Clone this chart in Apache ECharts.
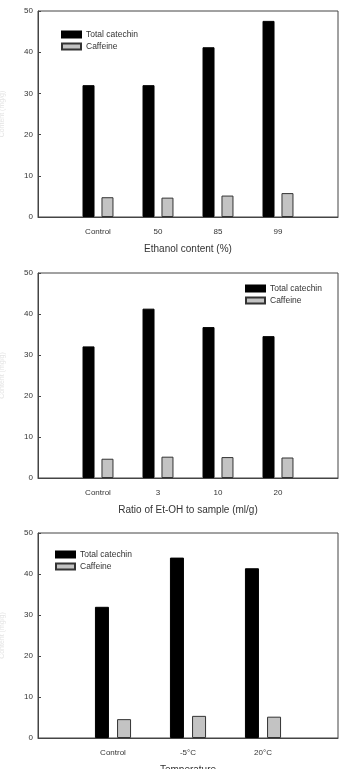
<!DOCTYPE html>
<html>
<head>
<meta charset="utf-8">
<script src="https://cdn.jsdelivr.net/npm/echarts@6/dist/echarts.min.js"></script>
<style>
  html, body { margin: 0; padding: 0; background: #fff; }
  #chart { width: 346px; height: 769px; }
</style>
</head>
<body>
<div id="chart"></div>
<script>
// tick labels on y (same for the three panels)
const yMin = 0, yMax = 50, yStep = 10;

// panel 1: ethanol content
const cats1 = ['Control', '50', '85', '99'];
const catechin1 = [32, 32, 41.2, 47.6];
const caffeine1 = [4.8, 4.7, 5.2, 5.8];

// panel 2: ratio of Et-OH to sample
const cats2 = ['Control', '3', '10', '20'];
const catechin2 = [32.1, 41.3, 36.8, 34.6];
const caffeine2 = [4.7, 5.2, 5.1, 5.0];

// panel 3: temperature
const cats3 = ['Control', '-5°C', '20°C'];
const catechin3 = [32, 44, 41.4];
const caffeine3 = [4.6, 5.4, 5.2];

const xNames = ['Ethanol content (%)', 'Ratio of Et-OH to sample (ml/g)', 'Temperature'];

// empty slot at both ends so groups sit on the ticks
const pad = arr => ['', ...arr, ''];
const padV = arr => ['-', ...arr, '-'];

const grids = [
  { left: 38, top: 11, width: 300, height: 206 },
  { left: 38, top: 273, width: 300, height: 205 },
  { left: 38, top: 533, width: 300, height: 205 }
].map(g => Object.assign(g, {
  show: true, borderColor: '#444', borderWidth: 1, backgroundColor: '#fff',
  containLabel: false, outerBoundsMode: 'none'
}));

const txt = { color: '#333', fontSize: 8, fontFamily: 'Liberation Sans, Arial, sans-serif' };

const xAxis = [cats1, cats2, cats3].map((c, i) => ({
  type: 'category',
  gridIndex: i,
  data: pad(c),
  boundaryGap: false,
  axisLine: { lineStyle: { color: '#444', width: 1 } },
  axisTick: { show: false },
  axisLabel: Object.assign({ interval: 0, margin: 11 }, txt),
  name: xNames[i],
  nameLocation: 'middle',
  nameGap: 27,
  nameTextStyle: Object.assign({}, txt, { fontSize: 10 })
}));

const yAxis = [0, 1, 2].map(i => ({
  type: 'value',
  gridIndex: i,
  min: yMin,
  max: yMax,
  interval: yStep,
  splitLine: { show: false },
  axisLine: { show: true, lineStyle: { color: '#444', width: 1 } },
  axisTick: { show: true, inside: true, length: 3, lineStyle: { color: '#444' } },
  axisLabel: Object.assign({ margin: 5 }, txt),
  name: 'Content (mg/g)',
  nameLocation: 'middle',
  nameGap: 32,
  nameTextStyle: { color: '#e4e4e4', fontSize: 7 }
}));

const blackStyle = { color: '#000', borderColor: '#000', borderWidth: 1 };
const grayStyle = { color: '#c3c3c3', borderColor: '#333', borderWidth: 1 };

const seriesData = [[catechin1, caffeine1], [catechin2, caffeine2], [catechin3, caffeine3]];
const barW = [12, 12, 14];
const series = [];
seriesData.forEach((pair, i) => {
  series.push({
    name: 'Total catechin', type: 'bar', xAxisIndex: i, yAxisIndex: i,
    data: padV(pair[0]), barWidth: barW[i], barGap: '58%',
    itemStyle: blackStyle
  });
  series.push({
    name: 'Caffeine', type: 'bar', xAxisIndex: i, yAxisIndex: i,
    data: padV(pair[1]), barWidth: barW[i], barGap: '58%',
    itemStyle: grayStyle
  });
});

const legendPos = [
  { left: 61, top: 30 },
  { left: 245, top: 284 },
  { left: 55, top: 550 }
];
const legend = legendPos.map(p => Object.assign({
  orient: 'vertical',
  data: ['Total catechin', 'Caffeine'],
  icon: 'rect',
  itemWidth: 19,
  itemHeight: 6,
  itemGap: 3,
  padding: 0,
  selectedMode: false,
  textStyle: Object.assign({}, txt, { fontSize: 8.5 })
}, p));

const chart = echarts.init(document.getElementById('chart'));
chart.setOption({
  animation: false,
  backgroundColor: '#fff',
  grid: grids,
  xAxis: xAxis,
  yAxis: yAxis,
  legend: legend,
  series: series
});
</script>
</body>
</html>
